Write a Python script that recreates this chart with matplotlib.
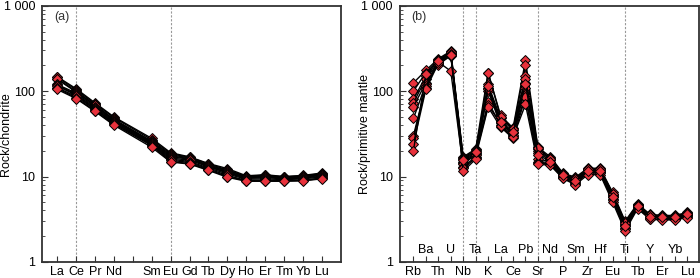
import numpy as np
import matplotlib
matplotlib.use('Agg')
import matplotlib.pyplot as plt
from matplotlib.ticker import LogLocator, NullFormatter

plt.rcParams['font.family'] = ['Liberation Sans', 'DejaVu Sans']

# (a) chondrite-normalised REE, Pm slot is left empty
ree_ticks = ['La', 'Ce', 'Pr', 'Nd', '', 'Sm', 'Eu', 'Gd', 'Tb', 'Dy', 'Ho', 'Er', 'Tm', 'Yb', 'Lu']
ree_elems = ['La', 'Ce', 'Pr', 'Nd', 'Sm', 'Eu', 'Gd', 'Tb', 'Dy', 'Ho', 'Er', 'Tm', 'Yb', 'Lu']
ree_samples = [
    [148, 107, 73, 50, 28, 19.0, 17.0, 14.2, 12.4, 10.2, 10.5, 10.0, 10.3, 11.0],
    [145, 104, 71, 49, 27, 18.5, 16.8, 14.0, 12.0, 10.0, 10.4, 9.9, 10.2, 10.8],
    [140, 100, 69, 47, 26, 18.0, 16.5, 13.6, 11.8, 10.0, 10.2, 9.8, 10.0, 10.6],
    [138, 98, 68, 46, 25.5, 17.5, 16.2, 13.4, 11.5, 9.8, 10.0, 9.7, 9.9, 10.5],
    [120, 95, 66, 45, 25, 17.0, 16.0, 13.2, 11.2, 9.7, 9.9, 9.6, 9.8, 10.3],
    [117, 92, 64, 44, 24.5, 16.5, 15.5, 13.0, 11.0, 9.5, 9.7, 9.4, 9.6, 10.1],
    [115, 90, 62, 43, 24, 16.0, 15.0, 12.6, 10.7, 9.3, 9.4, 9.2, 9.4, 9.9],
    [110, 87, 61, 42, 23.5, 15.5, 14.6, 12.3, 10.3, 9.0, 9.1, 9.0, 9.1, 9.6],
    [108, 84, 59, 41, 23, 15.0, 14.2, 12.0, 10.0, 8.9, 8.9, 8.9, 9.0, 9.5],
    [105, 82, 58, 40, 22, 14.8, 14.0, 11.8, 9.8, 8.8, 8.8, 8.8, 8.9, 9.4],
]
ree_dashed = ['Ce', 'Eu']

# (b) primitive-mantle-normalised trace elements
pm_elems = ['Rb', 'Ba', 'Th', 'U', 'Nb', 'Ta', 'K', 'La', 'Ce', 'Pb', 'Sr', 'Nd', 'P',
            'Sm', 'Zr', 'Hf', 'Eu', 'Ti', 'Tb', 'Y', 'Er', 'Yb', 'Lu']
pm_samples = [
    [125, 175, 240, 295, 17.0, 21.0, 165, 52, 37, 230, 22.0, 17.0, 11.0, 9.8, 12.5, 12.5, 6.5, 3.0, 4.8, 3.6, 3.5, 3.5, 3.8],
    [100, 165, 230, 290, 16.5, 20.5, 120, 48, 35, 200, 21.0, 16.5, 10.8, 9.5, 12.3, 12.2, 6.3, 2.9, 4.7, 3.55, 3.45, 3.45, 3.7],
    [80, 150, 225, 280, 16.0, 20.0, 110, 45, 33, 150, 20.0, 16.0, 10.5, 9.2, 12.0, 12.0, 6.1, 2.8, 4.6, 3.5, 3.4, 3.4, 3.65],
    [73, 140, 215, 270, 15.0, 19.0, 100, 43, 32, 125, 19.0, 15.5, 10.2, 9.0, 11.8, 11.7, 5.9, 2.7, 4.5, 3.4, 3.35, 3.35, 3.55],
    [66, 125, 210, 265, 14.5, 18.5, 75, 40, 30, 110, 16.0, 15.0, 10.0, 8.7, 11.5, 11.4, 5.7, 2.6, 4.4, 3.35, 3.3, 3.3, 3.5],
    [48, 120, 205, 260, 14.0, 18.0, 68, 42, 31, 90, 15.0, 14.5, 9.8, 8.5, 11.2, 11.2, 5.5, 2.5, 4.4, 3.3, 3.25, 3.2, 3.45],
    [30, 115, 220, 172, 13.0, 17.0, 65, 38, 28, 85, 14.5, 14.0, 9.6, 8.2, 11.0, 10.9, 5.3, 2.4, 4.3, 3.2, 3.15, 3.15, 3.4],
    [28, 110, 235, 285, 12.5, 16.5, 105, 39, 29, 70, 14.0, 13.5, 9.5, 8.0, 10.5, 10.5, 5.0, 2.3, 4.2, 3.15, 3.1, 3.1, 3.3],
    [24, 105, 212, 275, 11.5, 16.0, 165, 50, 36, 140, 21.5, 16.0, 10.6, 9.3, 12.2, 12.1, 6.2, 2.85, 4.7, 3.5, 3.45, 3.45, 3.7],
    [20, 160, 228, 268, 15.5, 19.5, 115, 44, 33, 120, 18.0, 15.0, 10.3, 8.8, 11.6, 11.5, 5.8, 2.65, 4.5, 3.4, 3.35, 3.35, 3.6],
]
pm_dashed = ['Nb', 'Ta', 'Sr', 'Ti']

red = '#e8323c'
spine_col = '#333333'
fs = 9

fig = plt.figure(figsize=(7.0, 2.78), dpi=100)
ax1 = fig.add_axes([0.060, 0.058, 0.427, 0.921])
ax2 = fig.add_axes([0.571, 0.058, 0.427, 0.921])


def style_axis(ax, ylabel, tag, label_x):
    ax.set_yscale('log')
    ax.set_ylim(1, 1000)
    ax.set_yticks([1, 10, 100, 1000])
    ax.set_yticklabels(['1', '10', '100', '1 000'])
    ax.yaxis.set_minor_locator(LogLocator(base=10, subs=np.arange(2, 10)))
    ax.yaxis.set_minor_formatter(NullFormatter())
    ax.tick_params(axis='both', which='major', direction='in', length=4, width=0.8,
                   color=spine_col, labelsize=fs)
    ax.tick_params(axis='x', which='major', pad=3)
    ax.tick_params(axis='y', which='major', pad=5)
    ax.tick_params(axis='y', which='minor', direction='in', length=2.5, width=0.6, color=spine_col)
    ax.tick_params(axis='x', which='minor', bottom=False)
    for s in ax.spines.values():
        s.set_color(spine_col)
        s.set_linewidth(1.3)
    ax.set_ylabel(ylabel, fontsize=fs)
    ax.yaxis.set_label_coords(label_x, 0.5)
    ax.text(0.04, 0.955, tag, transform=ax.transAxes, fontsize=fs, va='center', ha='left',
            color='#333333')


def draw(ax, xs, samples):
    for row in samples:
        ax.plot(xs, row, color='black', lw=1.0, zorder=3,
                marker='D', ms=5.2, mfc=red, mec='black', mew=0.7)


# panel (a)
ree_x = [ree_ticks.index(e) for e in ree_elems]
for e in ree_dashed:
    ax1.axvline(ree_ticks.index(e), color='#999999', lw=0.8, ls=(0, (2, 1.5)), zorder=1)
draw(ax1, ree_x, ree_samples)
ax1.set_xlim(-0.8, len(ree_ticks) - 1 + 1.0)
ax1.set_xticks(range(len(ree_ticks)))
ax1.set_xticklabels(ree_ticks)
style_axis(ax1, 'Rock/chondrite', '(a)', -0.102)

# panel (b)
pm_x = list(range(len(pm_elems)))
for e in pm_dashed:
    ax2.axvline(pm_elems.index(e), color='#999999', lw=0.8, ls=(0, (2, 1.5)), zorder=1)
draw(ax2, pm_x, pm_samples)
ax2.set_xlim(-1.1, len(pm_elems) - 1 + 0.9)
ax2.set_xticks(pm_x)
ax2.set_xticklabels([e if i % 2 == 0 else '' for i, e in enumerate(pm_elems)])
for i, e in enumerate(pm_elems):
    if i % 2 == 1:
        ax2.text(i, 0.045, e, transform=ax2.get_xaxis_transform(), ha='center', va='center',
                 fontsize=fs)
style_axis(ax2, 'Rock/primitive mantle', '(b)', -0.097)

fig.savefig('out.png', dpi=100)
